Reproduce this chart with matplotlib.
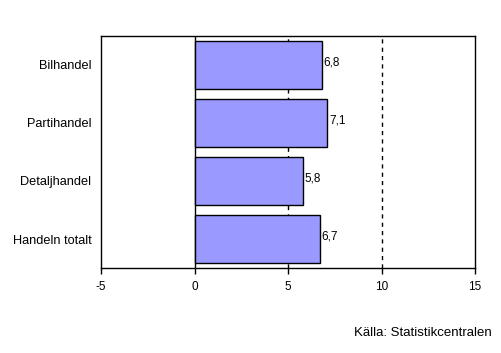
import matplotlib.pyplot as plt

plt.rcParams["font.family"] = ["Liberation Sans", "DejaVu Sans"]

categories = ["Bilhandel", "Partihandel", "Detaljhandel", "Handeln totalt"]
values = [6.8, 7.1, 5.8, 6.7]
labels = ["6,8", "7,1", "5,8", "6,7"]
xticks = [-5, 0, 5, 10, 15]

fig = plt.figure(figsize=(5.01, 3.53), dpi=100)
ax = fig.add_axes([101 / 501, 85 / 353, 374 / 501, 232 / 353])

pos = range(len(categories))
ax.barh(pos, values, height=0.83, color="#9999FF", edgecolor="black", linewidth=1, zorder=3)
for p, v, lab in zip(pos, values, labels):
    ax.text(v + 0.1, p - 0.05, lab, va="center", ha="left", fontsize=8.5, zorder=4)

ax.set_xlim(-5, 15)
ax.set_ylim(3.5, -0.5)
ax.set_xticks(xticks)
ax.set_xticklabels([str(t) for t in xticks], fontsize=8.5)
ax.set_yticks(list(pos))
ax.set_yticklabels(categories, fontsize=9.2)
ax.tick_params(axis="y", length=0, pad=7)
ax.tick_params(axis="x", length=4, width=1, direction="out", pad=5)

for x in (5, 10):
    ax.axvline(x, color="black", linestyle=(0, (3, 3)), linewidth=1, zorder=1)
ax.axvline(0, color="black", linewidth=1, zorder=2)

for s in ax.spines.values():
    s.set_linewidth(1)
    s.set_color("black")

fig.text(492 / 501, 1 - 333 / 353, "Källa: Statistikcentralen", ha="right", va="center", fontsize=9.5)

fig.savefig("out.png", dpi=100)
